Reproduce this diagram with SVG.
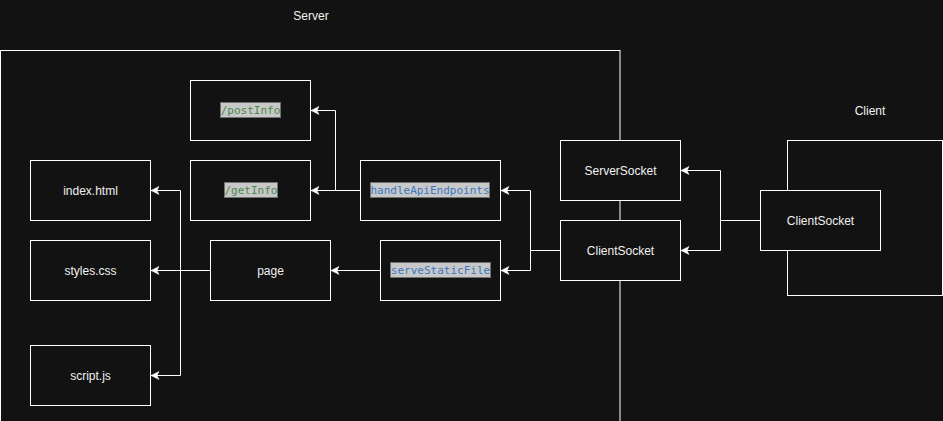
<svg xmlns="http://www.w3.org/2000/svg" width="943" height="421" viewBox="0 0 943 421">
<defs>
<style>
.bg{fill:#121212}
.box{fill:#121212;stroke:#ffffff;stroke-width:1}
.lbl{font-family:"Liberation Sans",Arial,sans-serif;font-size:12px;fill:#f0f0f0;text-anchor:middle}
.code{font-family:"DejaVu Sans Mono","Liberation Mono",monospace;font-size:11px;text-anchor:middle}
.fn{fill:#3b78c3}
.str{fill:#4b8a4b}
.cbg{fill:#c8c8c8;stroke:#707070;stroke-width:1}
.edge{fill:none;stroke:#ffffff;stroke-width:1;marker-end:url(#arr)}
.plain{fill:none;stroke:#ffffff;stroke-width:1}
</style>
<marker id="arr" markerWidth="10" markerHeight="10" refX="9" refY="4" orient="auto" markerUnits="userSpaceOnUse">
<path d="M9,4 L1,0 L3,4 L1,8 Z" fill="#ffffff" stroke="#ffffff" stroke-width="0.5"/>
</marker>
</defs>
<rect class="bg" x="0" y="0" width="943" height="421"/>
<g id="server-container">
<rect x="0.5" y="50.5" width="619.5" height="400" fill="none" stroke="#ffffff" stroke-width="1"/>
<text class="lbl" x="311" y="20">Server</text>
</g>
<g id="client-container">
<rect x="787.5" y="140.5" width="155" height="155" fill="none" stroke="#ffffff" stroke-width="1"/>
<text class="lbl" x="870" y="115">Client</text>
</g>
<g id="connectors">
<polyline class="edge" points="760,220.5 720.5,220.5 720.5,170.5 681,170.5"/>
<polyline class="edge" points="720.5,220.5 720.5,250.5 681,250.5"/>
<polyline class="edge" points="560,250.5 530.5,250.5 530.5,190.5 501,190.5"/>
<polyline class="edge" points="530.5,250.5 530.5,270.5 501,270.5"/>
<polyline class="edge" points="360,190.5 335.5,190.5 335.5,110.5 311,110.5"/>
<polyline class="edge" points="335.5,190.5 311,190.5"/>
<polyline class="edge" points="380,270.5 331,270.5"/>
<polyline class="edge" points="210,270.5 151,270.5"/>
<polyline class="edge" points="180.5,270.5 180.5,190.5 151,190.5"/>
<polyline class="edge" points="180.5,270.5 180.5,375.5 151,375.5"/>
</g>
<g id="ServerSocket">
<rect class="box" x="560.5" y="140.5" width="120" height="60"/>
<text class="lbl" x="620.5" y="175">ServerSocket</text>
</g>
<g id="ClientSocketServer">
<rect class="box" x="560.5" y="220.5" width="120" height="60"/>
<text class="lbl" x="620.5" y="255">ClientSocket</text>
</g>
<g id="ClientSocketClient">
<rect class="box" x="760.5" y="190.5" width="120" height="60"/>
<text class="lbl" x="820.5" y="225">ClientSocket</text>
</g>
<g id="handleApiEndpoints">
<rect class="box" x="360.5" y="160.5" width="140" height="60"/>
<rect class="cbg" x="370.5" y="182.5" width="119" height="15"/>
<text class="code fn" x="430" y="194">handleApiEndpoints</text>
</g>
<g id="serveStaticFile">
<rect class="box" x="380.5" y="240.5" width="120" height="60"/>
<rect class="cbg" x="390.5" y="262.5" width="100" height="15"/>
<text class="code fn" x="440.5" y="274">serveStaticFile</text>
</g>
<g id="postInfo">
<rect class="box" x="190.5" y="80.5" width="120" height="60"/>
<rect class="cbg" x="220.5" y="102.5" width="60" height="15"/>
<text class="code str" x="250.5" y="114">/postInfo</text>
</g>
<g id="getInfo">
<rect class="box" x="190.5" y="160.5" width="120" height="60"/>
<rect class="cbg" x="224.5" y="182.5" width="53" height="15"/>
<text class="code str" x="251" y="194">/getInfo</text>
</g>
<g id="page">
<rect class="box" x="210.5" y="240.5" width="120" height="60"/>
<text class="lbl" x="270.5" y="275">page</text>
</g>
<g id="index">
<rect class="box" x="30.5" y="160.5" width="120" height="60"/>
<text class="lbl" x="90.5" y="195">index.html</text>
</g>
<g id="styles">
<rect class="box" x="30.5" y="240.5" width="120" height="60"/>
<text class="lbl" x="90.5" y="275">styles.css</text>
</g>
<g id="script">
<rect class="box" x="30.5" y="345.5" width="120" height="60"/>
<text class="lbl" x="90.5" y="380">script.js</text>
</g>
</svg>
